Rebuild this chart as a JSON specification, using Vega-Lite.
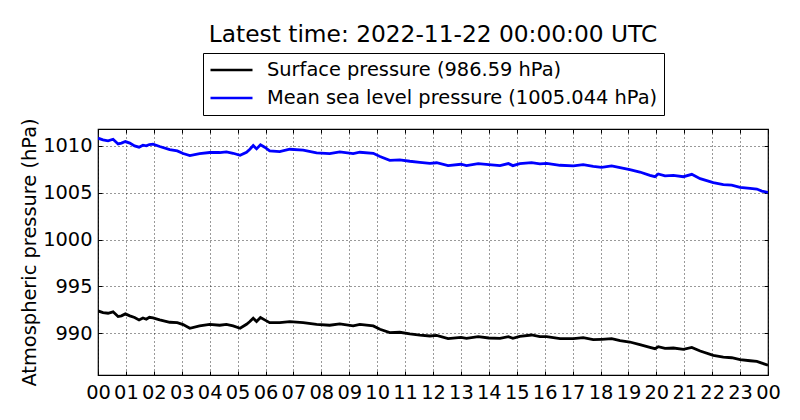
{
  "$schema": "https://vega.github.io/schema/vega-lite/v6.json",
  "width": 670,
  "height": 246,
  "autosize": {"type": "none"},
  "padding": {"left": 98, "top": 129, "right": 32, "bottom": 45},
  "background": "white",
  "title": {
    "text": "Latest time: 2022-11-22 00:00:00 UTC",
    "fontSize": 23.3,
    "fontWeight": "normal",
    "color": "black",
    "anchor": "middle",
    "frame": "group",
    "offset": 5
  },
  "data": {
    "values": [
      {"h": 0, "msl": 1010.82, "sp": 992.39},
      {"h": 0.18, "msl": 1010.64, "sp": 992.21},
      {"h": 0.36, "msl": 1010.54, "sp": 992.14},
      {"h": 0.54, "msl": 1010.71, "sp": 992.29},
      {"h": 0.72, "msl": 1010.21, "sp": 991.79},
      {"h": 0.84, "msl": 1010.29, "sp": 991.86},
      {"h": 0.98, "msl": 1010.46, "sp": 992.07},
      {"h": 1.14, "msl": 1010.29, "sp": 991.86},
      {"h": 1.31, "msl": 1010.0, "sp": 991.68},
      {"h": 1.47, "msl": 1009.86, "sp": 991.43},
      {"h": 1.61, "msl": 1010.07, "sp": 991.64},
      {"h": 1.73, "msl": 1010.0, "sp": 991.5},
      {"h": 1.84, "msl": 1010.14, "sp": 991.71},
      {"h": 1.97, "msl": 1010.18, "sp": 991.64},
      {"h": 2.21, "msl": 1009.93, "sp": 991.43},
      {"h": 2.57, "msl": 1009.61, "sp": 991.18},
      {"h": 2.84, "msl": 1009.46, "sp": 991.14},
      {"h": 3.05, "msl": 1009.18, "sp": 990.93},
      {"h": 3.29, "msl": 1008.96, "sp": 990.54},
      {"h": 3.64, "msl": 1009.18, "sp": 990.79},
      {"h": 4.0, "msl": 1009.29, "sp": 990.96},
      {"h": 4.36, "msl": 1009.29, "sp": 990.86},
      {"h": 4.6, "msl": 1009.36, "sp": 990.96},
      {"h": 4.84, "msl": 1009.21, "sp": 990.79},
      {"h": 5.09, "msl": 1009.0, "sp": 990.54},
      {"h": 5.32, "msl": 1009.32, "sp": 990.96},
      {"h": 5.44, "msl": 1009.64, "sp": 991.25},
      {"h": 5.56, "msl": 1010.04, "sp": 991.61},
      {"h": 5.68, "msl": 1009.68, "sp": 991.25},
      {"h": 5.82, "msl": 1010.11, "sp": 991.68},
      {"h": 5.97, "msl": 1009.86, "sp": 991.43},
      {"h": 6.15, "msl": 1009.46, "sp": 991.14},
      {"h": 6.51, "msl": 1009.39, "sp": 991.14},
      {"h": 6.87, "msl": 1009.64, "sp": 991.25},
      {"h": 7.35, "msl": 1009.54, "sp": 991.14},
      {"h": 7.83, "msl": 1009.25, "sp": 990.96},
      {"h": 8.3, "msl": 1009.18, "sp": 990.86},
      {"h": 8.66, "msl": 1009.36, "sp": 991.0},
      {"h": 9.14, "msl": 1009.18, "sp": 990.79},
      {"h": 9.38, "msl": 1009.32, "sp": 990.96},
      {"h": 9.86, "msl": 1009.21, "sp": 990.79},
      {"h": 10.1, "msl": 1008.86, "sp": 990.43},
      {"h": 10.45, "msl": 1008.46, "sp": 990.07},
      {"h": 10.81, "msl": 1008.5, "sp": 990.11},
      {"h": 11.17, "msl": 1008.36, "sp": 989.93},
      {"h": 11.53, "msl": 1008.25, "sp": 989.8},
      {"h": 11.89, "msl": 1008.14, "sp": 989.71},
      {"h": 12.13, "msl": 1008.2, "sp": 989.77},
      {"h": 12.54, "msl": 1007.89, "sp": 989.43},
      {"h": 13.0, "msl": 1008.04, "sp": 989.57},
      {"h": 13.2, "msl": 1007.89, "sp": 989.46},
      {"h": 13.62, "msl": 1008.11, "sp": 989.64},
      {"h": 14.0, "msl": 1008.0, "sp": 989.5},
      {"h": 14.4, "msl": 1007.89, "sp": 989.46},
      {"h": 14.7, "msl": 1008.11, "sp": 989.64},
      {"h": 14.86, "msl": 1007.89, "sp": 989.46},
      {"h": 15.11, "msl": 1008.11, "sp": 989.68},
      {"h": 15.53, "msl": 1008.21, "sp": 989.82},
      {"h": 15.83, "msl": 1008.07, "sp": 989.64},
      {"h": 16.07, "msl": 1008.14, "sp": 989.64},
      {"h": 16.55, "msl": 1007.93, "sp": 989.43},
      {"h": 17.03, "msl": 1007.86, "sp": 989.43},
      {"h": 17.38, "msl": 1008.0, "sp": 989.54},
      {"h": 17.74, "msl": 1007.82, "sp": 989.32},
      {"h": 18.04, "msl": 1007.71, "sp": 989.36},
      {"h": 18.4, "msl": 1007.86, "sp": 989.43},
      {"h": 18.7, "msl": 1007.68, "sp": 989.21},
      {"h": 19.05, "msl": 1007.46, "sp": 989.07},
      {"h": 19.41, "msl": 1007.21, "sp": 988.79},
      {"h": 19.77, "msl": 1006.86, "sp": 988.5},
      {"h": 19.95, "msl": 1006.71, "sp": 988.36},
      {"h": 20.07, "msl": 1007.0, "sp": 988.57},
      {"h": 20.31, "msl": 1006.79, "sp": 988.39},
      {"h": 20.61, "msl": 1006.86, "sp": 988.43},
      {"h": 20.97, "msl": 1006.71, "sp": 988.29},
      {"h": 21.27, "msl": 1006.96, "sp": 988.5},
      {"h": 21.57, "msl": 1006.5, "sp": 988.11},
      {"h": 22.04, "msl": 1006.07, "sp": 987.64},
      {"h": 22.4, "msl": 1005.86, "sp": 987.46},
      {"h": 22.7, "msl": 1005.82, "sp": 987.39},
      {"h": 23.0, "msl": 1005.57, "sp": 987.18},
      {"h": 23.36, "msl": 1005.46, "sp": 987.07},
      {"h": 23.6, "msl": 1005.39, "sp": 987.0},
      {"h": 23.78, "msl": 1005.18, "sp": 986.82},
      {"h": 24.0, "msl": 1005.044, "sp": 986.59}
    ]
  },
  "transform": [{"fold": ["sp", "msl"], "as": ["series", "value"]}],
  "resolve": {"axis": {"x": "independent", "y": "independent"}},
  "layer": [
    {
      "mark": {"type": "line", "strokeWidth": 2.8, "clip": true},
      "encoding": {
        "x": {
          "field": "h",
          "type": "quantitative",
          "scale": {"domain": [0, 24], "nice": false, "zero": false},
          "axis": {
            "orient": "bottom",
            "title": null,
            "values": [0,1,2,3,4,5,6,7,8,9,10,11,12,13,14,15,16,17,18,19,20,21,22,23,24],
            "labelExpr": "(datum.value % 24 < 10 ? '0' : '') + (datum.value % 24)",
            "labelOverlap": false,
            "labelFlush": false,
            "labelBound": false,
            "labelPadding": 12
          }
        },
        "y": {
          "field": "value",
          "type": "quantitative",
          "scale": {"domain": [985.55, 1011.8], "nice": false, "zero": false},
          "axis": {
            "orient": "left",
            "title": "Atmospheric pressure (hPa)",
            "values": [990, 995, 1000, 1005, 1010],
            "format": "d",
            "labelPadding": 10,
            "titlePadding": 3
          }
        },
        "color": {
          "field": "series",
          "type": "nominal",
          "scale": {"domain": ["sp", "msl"], "range": ["black", "blue"]},
          "legend": {
            "title": null,
            "orient": "none",
            "legendX": 105,
            "legendY": -76,
            "labelExpr": "datum.label == 'sp' ? 'Surface pressure (986.59 hPa)' : 'Mean sea level pressure (1005.044 hPa)'",
            "symbolType": "stroke",
            "symbolSize": 1764,
            "symbolStrokeWidth": 2.4,
            "clipHeight": 22,
            "labelFontSize": 19.4,
            "labelColor": "black",
            "labelLimit": 600,
            "labelOffset": 13,
            "strokeColor": "black",
            "fillColor": "white",
            "padding": 6,
            "rowPadding": 6
          }
        }
      }
    },
    {
      "mark": {"type": "line", "strokeOpacity": 0},
      "encoding": {
        "detail": {"field": "series"},
        "x": {
          "field": "h",
          "type": "quantitative",
          "axis": {
            "orient": "top",
            "title": null,
            "labels": false,
            "grid": false,
            "values": [0,1,2,3,4,5,6,7,8,9,10,11,12,13,14,15,16,17,18,19,20,21,22,23,24]
          }
        },
        "y": {
          "field": "value",
          "type": "quantitative",
          "axis": {
            "orient": "right",
            "title": null,
            "labels": false,
            "grid": false,
            "values": [990, 995, 1000, 1005, 1010]
          }
        }
      }
    }
  ],
  "config": {
    "font": "DejaVu Sans",
    "view": {"stroke": "black", "strokeWidth": 1.2},
    "axis": {
      "domain": false,
      "grid": true,
      "gridColor": "black",
      "gridDash": [1, 3],
      "gridOpacity": 0.8,
      "gridWidth": 1,
      "ticks": true,
      "tickColor": "black",
      "tickSize": -4,
      "labelFontSize": 19.4,
      "labelColor": "black",
      "titleFontSize": 19.4,
      "titleFontWeight": "normal",
      "titleColor": "black"
    }
  }
}
